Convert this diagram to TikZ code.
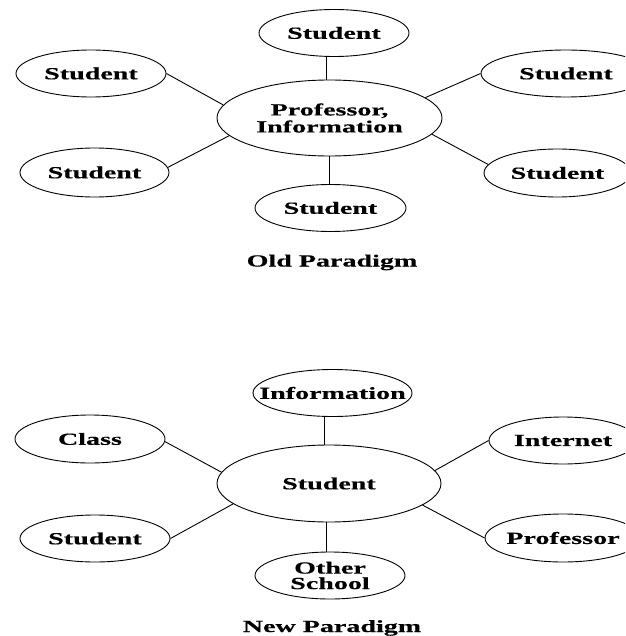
\documentclass[tikz,border=0pt]{standalone}
\usepackage{fontspec}
\newfontfamily\lblfont[FakeStretch=1.65,FakeBold=0.4]{Liberation Serif}
\usetikzlibrary{shapes.geometric}
\begin{document}
\begin{tikzpicture}[x=1pt,y=-1pt,
  bub/.style={draw, ellipse, line width=0.9pt, inner sep=0pt},
  txt/.style={inner sep=0pt, align=center,
    font=\lblfont\bfseries\fontsize{17}{17}\selectfont},
  ttl/.style={inner sep=0pt, anchor=base, font=\lblfont\bfseries\fontsize{17}{17.5}\selectfont},
  link/.style={line width=0.9pt}]
\useasboundingbox (0,0) rectangle (625,636);
\clip (0,0) rectangle (625,636);
% ---------- Old paradigm ----------
\node[bub, minimum width=225, minimum height=76, label={[txt]center:{Professor,\\Information}}] (pc) at (329.5,118) {};
\node[bub, minimum width=150, minimum height=47, label={[txt]center:Student}] (ts) at (334,33) {};
\node[bub, minimum width=150, minimum height=47, label={[txt]center:Student}] (ul) at (91,73.5) {};
\node[bub, minimum width=149, minimum height=49, label={[txt]center:Student}] (ll) at (94.5,172.5) {};
\node[bub, minimum width=151, minimum height=47, label={[txt]center:Student}] (bs) at (330.5,208) {};
\node[bub, minimum width=170, minimum height=47, label={[txt]center:Student}] (ur) at (566,73.5) {};
\node[bub, minimum width=147, minimum height=48, label={[txt]center:Student}] (lr) at (557.5,173) {};
\node[ttl] (oldt) at (332,266.5) {Old Paradigm};
\draw[link] ([xshift=-3]pc.north) -- ([xshift=-3]pc.north |- ts.south);
\draw[link] (pc.south) -- (pc.south |- bs.north);
\draw[link] (ul.east) -- (pc.173);
\draw[link] (ll.4) -- (pc.190);
\draw[link] (pc.12) -- (ur.west);
\draw[link] (pc.351) -- (lr.173);
% ---------- New paradigm ----------
\node[bub, minimum width=224, minimum height=77, label={[txt]center:Student}] (cs) at (329,483.5) {};
\node[bub, minimum width=159, minimum height=47, label={[txt]center:Information}] (info) at (332.5,393) {};
\node[bub, minimum width=150, minimum height=48, label={[txt]center:Class}] (class) at (90,439) {};
\node[bub, minimum width=150, minimum height=47, label={[txt]center:Student}] (sl) at (95,538.5) {};
\node[bub, minimum width=150, minimum height=47, label={[txt, font=\lblfont\bfseries\fontsize{17}{15.5}\selectfont]center:{Other\\School}}] (other) at (330,575.5) {};
\node[bub, minimum width=148, minimum height=47, label={[txt]center:Internet}] (inet) at (563,440.5) {};
\node[bub, minimum width=156, minimum height=48, label={[txt]center:Professor}] (prof) at (563,538) {};
\node[ttl] (newt) at (332,632) {New Paradigm};
\draw[link] ([xshift=-5]cs.north) -- ([xshift=-5]cs.north |- info.south);
\draw[link] ([xshift=-3]cs.south) -- ([xshift=-3]cs.south |- other.north);
\draw[link] (class.358) -- (cs.174);
\draw[link] (sl.east) -- (cs.192);
\draw[link] (cs.7) -- (inet.west);
\draw[link] (cs.347) -- (prof.west);
\end{tikzpicture}
\end{document}
